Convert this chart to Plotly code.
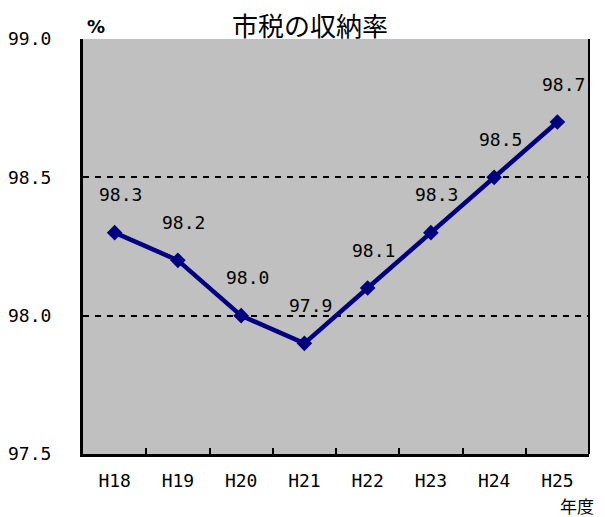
import plotly.graph_objects as go

years = ["H18", "H19", "H20", "H21", "H22", "H23", "H24", "H25"]
rates = [98.3, 98.2, 98.0, 97.9, 98.1, 98.3, 98.5, 98.7]
y_ticks = [97.5, 98.0, 98.5, 99.0]
y_tick_text = ["97.5", "98.0", "98.5", "99.0"]

CJK = "Noto Sans CJK JP"
MONO = "DejaVu Sans Mono"

fig = go.Figure()
fig.add_trace(go.Scatter(
    x=years, y=rates, mode="lines+markers",
    line=dict(color="#000080", width=4.5),
    marker=dict(symbol="diamond", size=12, color="#000080"),
    hoverinfo="x+y", showlegend=False,
))

for xv, yv in zip(years, rates):
    fig.add_annotation(x=xv, y=yv, text=f"{yv:.1f}", showarrow=False,
                       yshift=38, xshift=6, font=dict(family=MONO, size=18, color="black"))

fig.add_annotation(xref="paper", yref="paper", x=(310 - 83) / 506, y=1, yanchor="middle", yshift=15,
                   text="市税の収納率", showarrow=False, font=dict(family=CJK, size=26, color="black"))
fig.add_annotation(xref="paper", yref="paper", x=0.0, y=1, xanchor="center", yanchor="middle",
                   yshift=13, xshift=13,
                   text="<b>%</b>", showarrow=False, font=dict(family="DejaVu Sans", size=18, color="black"))
fig.add_annotation(xref="paper", yref="paper", x=1.0, y=0, xanchor="center", yanchor="middle",
                   yshift=-51, xshift=-12,
                   text="年度", showarrow=False, font=dict(family=CJK, size=17, color="black"))

# right border
fig.add_shape(type="line", xref="paper", yref="paper", x0=1, x1=1, y0=0, y1=1,
              line=dict(color="black", width=2))

fig.update_layout(
    width=605, height=517,
    margin=dict(l=83, r=16, t=39, b=63),
    paper_bgcolor="white", plot_bgcolor="#C0C0C0",
    font=dict(family=MONO, size=18, color="black"),
    xaxis=dict(
        type="category", range=[-0.5, 7.5], automargin=False,
        showline=True, linecolor="black", linewidth=3,
        ticks="inside", ticklen=6, tickcolor="black", tickwidth=2,
        tickson="boundaries", showgrid=False,
        ticklabelstandoff=8,
        tickfont=dict(family=MONO, size=18),
    ),
    yaxis=dict(
        range=[97.5, 99.0], tickvals=y_ticks, ticktext=y_tick_text, automargin=False,
        showline=True, linecolor="black", linewidth=3,
        ticks="", showgrid=True, gridcolor="black", gridwidth=2, griddash="6px,6px",
        zeroline=False, ticklabelstandoff=25,
        tickfont=dict(family=MONO, size=18),
    ),
)

fig.write_html("out.html", config={"displayModeBar": False},
               post_script="document.body.style.margin='0px';")
